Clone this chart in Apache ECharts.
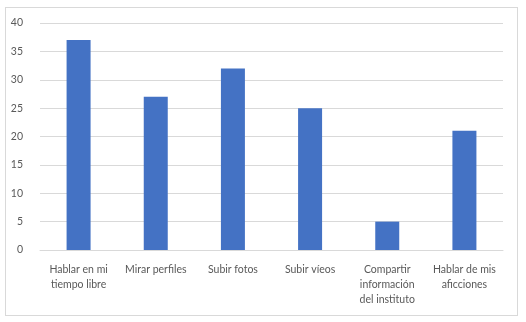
<!DOCTYPE html>
<html><head><meta charset="utf-8">
<script src="https://cdn.jsdelivr.net/npm/echarts@6/dist/echarts.min.js"></script>
<style>html,body{margin:0;padding:0;background:#fff}#frame{position:absolute;left:5px;top:7px;width:513px;height:309px;border:1px solid #d9d9d9;box-sizing:border-box}#c{width:526px;height:322px;position:absolute;left:0;top:0}</style>
</head><body><div id="frame"></div><div id="c"></div>
<script>
const categories = ["Hablar en mi\ntiempo libre", "Mirar perfiles", "Subir fotos", "Subir víeos", "Compartir\ninformación\ndel instituto", "Hablar de mis\naficciones"];
const values = [37, 27, 32, 25, 5, 21];
const yTicks = {min: 0, max: 40, interval: 5};
const chart = echarts.init(document.getElementById('c'));
chart.setOption({
  animation: false,
  grid: {left: 40, right: 23, top: 23, bottom: 72, containLabel: false},
  xAxis: {
    type: 'category', data: categories,
    axisLine: {lineStyle: {color: '#d9d9d9'}},
    axisTick: {show: false},
    axisLabel: {color: '#595959', fontFamily: 'Lato', fontSize: 10.5, lineHeight: 15, margin: 12, interval: 0}
  },
  yAxis: {
    type: 'value', min: yTicks.min, max: yTicks.max, interval: yTicks.interval,
    axisLine: {show: false}, axisTick: {show: false},
    splitLine: {lineStyle: {color: '#d9d9d9'}},
    axisLabel: {color: '#595959', fontFamily: 'Lato', fontSize: 10.5, margin: 17}
  },
  series: [{type: 'bar', data: values, barWidth: 24, itemStyle: {color: '#4472C4'}}]
});
</script></body></html>
